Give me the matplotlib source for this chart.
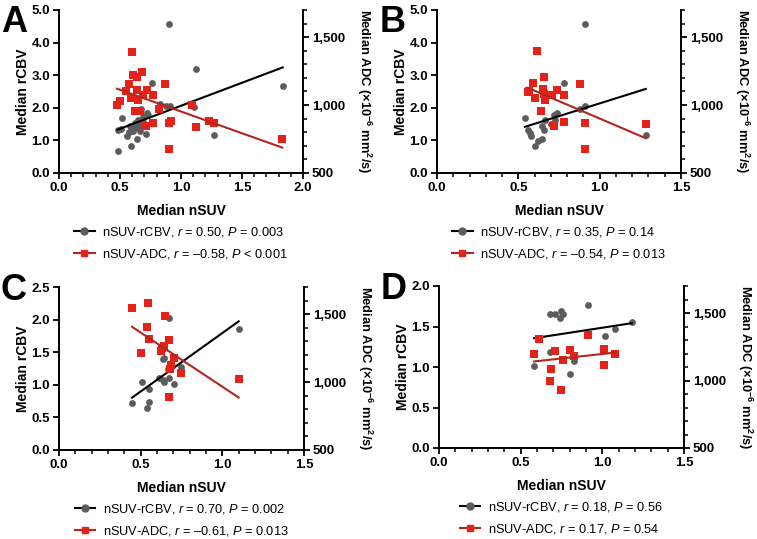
import matplotlib
matplotlib.use('Agg')
import matplotlib.pyplot as plt
import matplotlib.ticker as ticker
from matplotlib.lines import Line2D
import numpy as np

plt.rcParams['font.family'] = ['Liberation Sans', 'DejaVu Sans']
plt.rcParams['mathtext.fontset'] = 'custom'
plt.rcParams['mathtext.rm'] = 'Liberation Sans'
plt.rcParams['mathtext.it'] = 'Liberation Sans:italic'
plt.rcParams['mathtext.bf'] = 'Liberation Sans:bold'

GRAY = '#5c5c5c'
RED = '#e3231a'
RED_LINE = '#b3261e'

# ---- panel A ----
a_gray_nsuv = [0.90, 1.12, 0.76, 0.83, 0.877, 0.91, 1.105, 0.52, 0.67, 0.72, 0.69, 0.65, 0.68,
               0.625, 0.666, 0.62, 0.646, 0.57, 0.61, 0.51, 0.487, 0.555, 0.64, 0.59, 0.48,
               0.715, 1.27, 1.834, 0.73, 0.583, 0.69, 0.66, 0.70]
a_rcbv = [4.56, 3.19, 2.75, 2.12, 2.04, 2.06, 2.02, 1.68, 1.96, 1.84, 1.73, 1.63, 1.61,
          1.53, 1.48, 1.38, 1.41, 1.27, 1.30, 1.35, 1.33, 1.12, 1.04, 0.84, 0.68,
          1.20, 1.17, 2.67, 1.78, 1.45, 1.55, 1.28, 1.50]
a_red_nsuv = [0.60, 0.61, 0.64, 0.68, 0.575, 0.87, 0.55, 0.64, 0.72, 0.77, 0.59, 0.65, 0.69,
              0.50, 0.475, 0.62, 0.82, 1.09, 0.71, 0.77, 0.90, 0.92, 1.12, 1.23, 1.27,
              0.90, 1.83, 0.66]
a_adc = [1392, 1223, 1209, 1243, 1157, 1155, 1102, 1112, 1112, 1075, 1054, 1034, 1071,
         1033, 1000, 956, 973, 997, 844, 871, 869, 883, 840, 881, 869,
         677, 747, 958]
a_fit_rcbv = [1.41, 0.653]    # slope, intercept
a_fit_adc = [-320.0, 1272.6]

# ---- panel B ----
b_gray_nsuv = [0.912, 0.78, 0.54, 0.56, 0.574, 0.58, 0.605, 0.62, 0.646, 0.646, 0.656, 0.667,
               0.70, 0.72, 0.74, 0.725, 0.88, 0.912, 1.284]
b_rcbv = [4.57, 2.75, 1.69, 1.33, 1.22, 1.12, 0.84, 0.97, 1.04, 1.43, 1.33, 1.63,
          1.51, 1.78, 1.84, 1.63, 1.96, 2.07, 1.17]
b_red_nsuv = [0.615, 0.66, 0.59, 0.88, 0.557, 0.568, 0.605, 0.65, 0.66, 0.667, 0.708, 0.74,
              0.78, 0.64, 0.72, 0.78, 0.91, 0.91, 1.284]
b_adc = [1397, 1208, 1160, 1155, 1094, 1102, 1054, 1119, 1083, 1034, 1071, 1112,
         1077, 956, 847, 873, 869, 679, 864]
b_fit_rcbv = [1.565, 0.57]
b_fit_adc = [-512.0, 1413.0]

# ---- panel C ----
c_gray_nsuv = [0.447, 0.537, 0.549, 0.553, 0.506, 0.61, 0.635, 0.645, 0.676, 0.707, 0.666,
               0.69, 0.635, 0.745, 0.676, 1.10, 0.64]
c_rcbv = [0.72, 0.64, 0.74, 0.93, 1.04, 1.10, 1.07, 1.04, 1.11, 1.01, 1.24,
          1.29, 1.39, 1.27, 2.02, 1.85, 1.41]
c_red_nsuv = [0.447, 0.547, 0.65, 0.537, 0.549, 0.672, 0.504, 0.625, 0.641, 0.707, 0.686,
              0.748, 0.682, 1.10, 0.676, 0.63]
c_adc = [1549, 1579, 1490, 1402, 1316, 1309, 1215, 1228, 1265, 1179, 1125,
         1064, 1096, 1024, 887, 1250]
c_fit_rcbv = [1.794, 0.0]
c_fit_adc = [-797.0, 1763.0]

# ---- panel D ----
d_gray_nsuv = [0.682, 0.712, 0.749, 0.759, 0.739, 0.911, 1.18, 1.08, 1.015, 0.678, 0.582,
               0.824, 0.80]
d_rcbv = [1.66, 1.66, 1.69, 1.65, 1.60, 1.76, 1.55, 1.47, 1.38, 1.18, 1.01, 1.08, 0.91]
d_red_nsuv = [0.61, 0.911, 0.582, 0.712, 0.80, 0.824, 0.759, 1.009, 1.08, 0.686, 1.013,
              0.678, 0.747]
d_adc = [1305, 1336, 1199, 1219, 1229, 1180, 1155, 1232, 1199, 1085, 1117, 1000, 929]
d_fit_rcbv = [0.31, 1.175]
d_fit_adc = [132.5, 1064.0]

W, H = 757, 539
fig = plt.figure(figsize=(W / 100, H / 100), dpi=100)


def px_rect(left, top, right, bottom):
    return [left / W, 1 - bottom / H, (right - left) / W, (bottom - top) / H]


def draw_panel(rect, letter, letter_xy, x_max, y_max, y_step,
               gx, gy, rx, ry, fit_g, fit_r, leg_g, leg_r):
    ax = fig.add_axes(rect)
    ax2 = ax.twinx()

    ax.scatter(gx, gy, s=24, marker='o', color=GRAY, linewidths=0, zorder=3)
    xs = np.array([min(gx), max(gx)])
    ax.plot(xs, fit_g[0] * xs + fit_g[1], color='black', lw=1.5, zorder=4)

    ax2.scatter(rx, ry, s=28, marker='s', color=RED, linewidths=0, zorder=3)
    xr = np.array([min(rx), max(rx)])
    ax2.plot(xr, fit_r[0] * xr + fit_r[1], color=RED_LINE, lw=1.5, zorder=4)

    ax.set_xlim(0, x_max)
    ax.set_ylim(0, y_max)
    ax2.set_ylim(500, 1700)

    ax.xaxis.set_major_locator(ticker.MultipleLocator(0.5))
    ax.xaxis.set_minor_locator(ticker.MultipleLocator(0.1))
    ax.yaxis.set_major_locator(ticker.MultipleLocator(y_step))
    ax.xaxis.set_major_formatter(ticker.FormatStrFormatter('%.1f'))
    ax.yaxis.set_major_formatter(ticker.FormatStrFormatter('%.1f'))
    ax2.yaxis.set_major_locator(ticker.FixedLocator([500, 1000, 1500]))
    ax2.yaxis.set_minor_locator(ticker.MultipleLocator(100))
    ax2.yaxis.set_major_formatter(ticker.FuncFormatter(lambda v, p: f'{int(v):,}'))

    for a in (ax, ax2):
        a.spines['top'].set_visible(False)
        for sp in a.spines.values():
            sp.set_linewidth(1.4)
        a.tick_params(which='major', length=4.5, width=1.3, labelsize=9.5, pad=2)
        a.tick_params(which='minor', length=3, width=1.1)
        for lab in a.get_xticklabels() + a.get_yticklabels():
            lab.set_fontweight('bold')
    ax.spines['right'].set_visible(False)
    ax2.spines['left'].set_visible(False)
    ax2.spines['bottom'].set_visible(False)

    ax.set_xlabel('Median nSUV', fontsize=10, fontweight='bold')
    ax.xaxis.set_label_coords(0.5, -0.19)
    ax.set_ylabel('Median rCBV', fontsize=10, fontweight='bold', va='center')
    ax.yaxis.set_label_coords(-0.148, 0.5)
    ax2.set_ylabel(r'Median ADC (×10$^{\mathbf{-6}}$ mm$^{\mathbf{2}}$/s)', fontsize=9.3,
                   fontweight='bold', rotation=270, va='center', ha='center')
    ax2.yaxis.set_label_coords(1.25, 0.5)

    handles = [Line2D([], [], color='black', lw=1.5, marker='o', ms=5, mfc=GRAY, mec=GRAY),
               Line2D([], [], color=RED_LINE, lw=1.5, marker='s', ms=5, mfc=RED, mec=RED)]
    ax.legend(handles, [leg_g, leg_r], loc='upper center', bbox_to_anchor=(0.5, -0.28),
              frameon=False, fontsize=9.2, handlelength=1.6, handletextpad=0.6,
              labelspacing=0.65, borderpad=0)

    fig.text(letter_xy[0] / W, 1 - letter_xy[1] / H, letter, fontsize=26,
             fontweight='bold', va='baseline', ha='left')


draw_panel(px_rect(59, 10, 303, 173), 'A', (1, 32), 2.0, 5.0, 1.0,
           a_gray_nsuv, a_rcbv, a_red_nsuv, a_adc, a_fit_rcbv, a_fit_adc,
           r'nSUV-rCBV, $r$ = 0.50, $P$ = 0.003', r'nSUV-ADC, $r$ = –0.58, $P$ < 0.001')
draw_panel(px_rect(437, 10, 681, 173), 'B', (380, 32), 1.5, 5.0, 1.0,
           b_gray_nsuv, b_rcbv, b_red_nsuv, b_adc, b_fit_rcbv, b_fit_adc,
           r'nSUV-rCBV, $r$ = 0.35, $P$ = 0.14', r'nSUV-ADC, $r$ = –0.54, $P$ = 0.013')
draw_panel(px_rect(59, 287, 304, 450), 'C', (1, 300), 1.5, 2.5, 0.5,
           c_gray_nsuv, c_rcbv, c_red_nsuv, c_adc, c_fit_rcbv, c_fit_adc,
           r'nSUV-rCBV, $r$ = 0.70, $P$ = 0.002', r'nSUV-ADC, $r$ = –0.61, $P$ = 0.013')
draw_panel(px_rect(439, 286, 684, 448), 'D', (381, 299), 1.5, 2.0, 0.5,
           d_gray_nsuv, d_rcbv, d_red_nsuv, d_adc, d_fit_rcbv, d_fit_adc,
           r'nSUV-rCBV, $r$ = 0.18, $P$ = 0.56', r'nSUV-ADC, $r$ = 0.17, $P$ = 0.54')

fig.savefig('out.png', dpi=100)
